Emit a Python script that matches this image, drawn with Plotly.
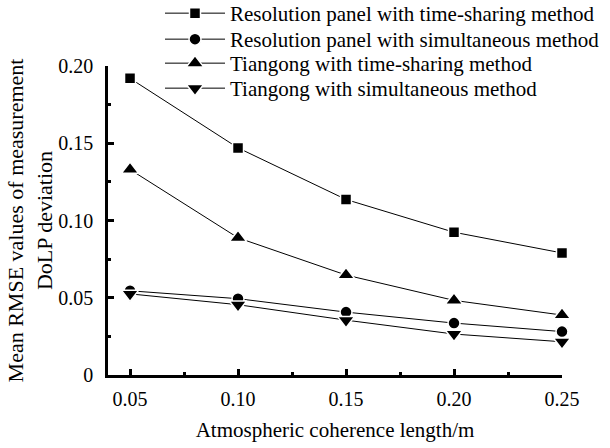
import plotly.graph_objects as go

x_vals = [0.05, 0.10, 0.15, 0.20, 0.25]
res_time = [0.192, 0.147, 0.1136, 0.0924, 0.079]
res_sim = [0.0545, 0.0494, 0.0407, 0.0336, 0.0281]
tg_time = [0.133, 0.0888, 0.0647, 0.0483, 0.0388]
tg_sim = [0.0525, 0.0455, 0.0355, 0.0265, 0.0215]

names = ["Resolution panel with time-sharing method",
         "Resolution panel with simultaneous method",
         "Tiangong with time-sharing method",
         "Tiangong with simultaneous method"]
series = [res_time, res_sim, tg_time, tg_sim]
symbols = ["square", "circle", "triangle-up", "triangle-down"]
sizes = [11, 12, 15, 15]
legend_ids = ["legend", "legend2", "legend3", "legend4"]
legend_rows_px = [13, 39, 63, 88]

font = "Liberation Serif, Times New Roman, serif"
ML, MR, MT, MB = 108, 48, 66, 73
W, H = 610, 448
plot_h = H - MT - MB
plot_w = W - ML - MR

fig = go.Figure()
for n, s, sym, sz, lg in zip(names, series, symbols, sizes, legend_ids):
    fig.add_trace(go.Scatter(
        x=x_vals, y=s, name=n, mode="lines+markers", legend=lg,
        line=dict(color="black", width=1),
        marker=dict(symbol=sym, size=sz, color="black",
                    line=dict(color="white", width=1.5)),
        cliponaxis=False,
    ))

legend_layout = {}
for lg, row in zip(legend_ids, legend_rows_px):
    legend_layout[lg] = dict(
        x=(160 - ML) / plot_w, y=(H - MB - (row - 20)) / plot_h,
        xanchor="left", yanchor="top",
        bgcolor="rgba(0,0,0,0)", font=dict(size=21, family=font),
        itemwidth=60,
    )

fig.update_layout(
    width=W, height=H,
    margin=dict(l=ML, r=MR, t=MT, b=MB, autoexpand=False),
    paper_bgcolor="white", plot_bgcolor="white",
    font=dict(family=font, size=20, color="black"),
    showlegend=True,
    **legend_layout,
    xaxis=dict(range=[0.0398, 0.25], tickvals=x_vals,
               ticktext=["0.05", "0.10", "0.15", "0.20", "0.25"],
               showline=True, linecolor="black", linewidth=2.5,
               ticks="inside", ticklen=6, tickwidth=2.5, tickcolor="black",
               ticklabelstandoff=4,
               minor=dict(tickvals=[0.075, 0.125, 0.175, 0.225], ticks="inside",
                          ticklen=3, tickwidth=2.5, tickcolor="black"),
               showgrid=False, zeroline=False,
               title=dict(text="Atmospheric coherence length/m", standoff=14,
                          font=dict(size=21, family=font))),
    yaxis=dict(range=[0, 0.20], tickvals=[0, 0.05, 0.10, 0.15, 0.20],
               ticktext=["0", "0.05", "0.10", "0.15", "0.20"],
               showline=True, linecolor="black", linewidth=2.5,
               ticks="inside", ticklen=6, tickwidth=2.5, tickcolor="black",
               ticklabelstandoff=8,
               minor=dict(tickvals=[0.025, 0.075, 0.125, 0.175], ticks="inside",
                          ticklen=3, tickwidth=2.5, tickcolor="black"),
               showgrid=False, zeroline=False,
               title=dict(text="Mean RMSE values of measurement<br>DoLP deviation",
                          standoff=0, font=dict(size=22, family=font))),
)

fig.write_html("out.html")
